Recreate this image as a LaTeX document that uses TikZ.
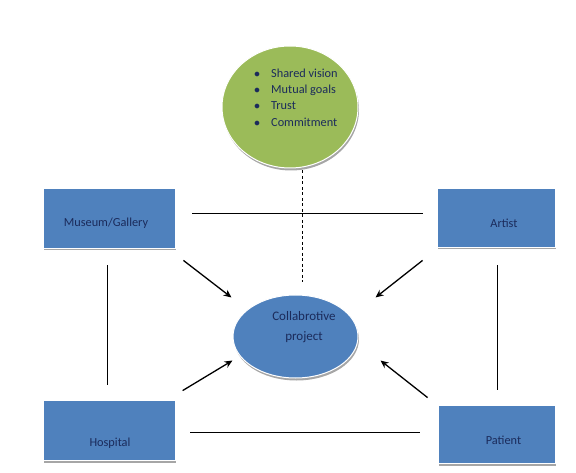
\documentclass[tikz,border=0pt]{standalone}
\usepackage{fontspec}
\setmainfont{Carlito}
\usetikzlibrary{shapes.geometric,arrows.meta,calc}
\definecolor{boxblue}{HTML}{4F81BD}
\definecolor{leaf}{HTML}{9BBB59}
\definecolor{ink}{HTML}{1B2B5B}
\begin{document}
\begin{tikzpicture}[x=1pt,y=-1pt,
  shadowed/.style={preaction={fill=black!35,transform canvas={shift={(1pt,-2.5pt)}}}},
  actor/.style={shadowed,draw=white,line width=0.8pt,fill=boxblue,inner sep=0pt},
  every label/.style={text=ink,font=\fontsize{12.3}{14}\selectfont,inner sep=0pt},
  bubble/.style={ellipse,shadowed,draw=white,line width=1pt,inner sep=0pt},
  link/.style={draw=black,line width=0.9pt},
  dashlink/.style={draw=black,line width=0.9pt,dash pattern=on 3pt off 2.5pt},
  push/.style={draw=black,line width=1.3pt,-{Stealth[length=8pt,width=7pt]}}
]
\useasboundingbox (0,0) rectangle (576,473);

\node[bubble,fill=leaf,minimum width=136pt,minimum height=122pt] (values) at (290,107) {};
\node[text=ink,font=\fontsize{12.3}{16.3}\selectfont,anchor=west,inner sep=0pt] (list) at (254,98.5)
  {\begin{tabular}{@{}l@{\hspace{11pt}}l@{}}
   $\bullet$ & Shared vision\\
   $\bullet$ & Mutual goals\\
   $\bullet$ & Trust\\
   $\bullet$ & Commitment
   \end{tabular}};

\node[bubble,fill=boxblue,minimum width=125pt,minimum height=83pt] (collab) at (295.5,336.5) {};
\node[text=ink,font=\fontsize{13}{20}\selectfont,align=center,inner sep=0pt] (collabtext) at (304,327) {Collabrotive\\project};

\node[actor,minimum width=132pt,minimum height=60pt,label={[shift={(-3pt,-5pt)}]center:Museum/Gallery}] (museum) at (109,218) {};
\node[actor,minimum width=118pt,minimum height=59pt,label={[shift={(8pt,-5.5pt)}]center:Artist}] (artist) at (496,217.5) {};
\node[actor,minimum width=132pt,minimum height=60pt,label={[shift={(1pt,-13pt)}]center:Hospital}] (hospital) at (109,430) {};
\node[actor,minimum width=117pt,minimum height=58pt,label={[shift={(7pt,-6pt)}]center:Patient}] (patient) at (496.5,434) {};

\draw[link] ($(museum.east)+(17,-5)$) -- ($(artist.west)+(-14,-4.5)$);
\draw[link] ($(hospital.east)+(15,2)$) -- ($(patient.west)+(-18,-2)$);
\draw[link] ($(museum.south)+(-2,17)$) -- ($(hospital.north)+(-2,-15)$);
\draw[link] ($(artist.south)+(1,18)$) -- ($(patient.north)+(0.5,-15)$);
\draw[dashlink] ($(values.south)+(12,2)$) -- ($(collab.north)+(6.5,-12)$);

\draw[push] ($(museum.south east)+(8,12)$) -- ($(collab.west)+(-1,-39)$);
\draw[push] ($(artist.south west)+(-14,13)$) -- ($(collab.east)+(17,-39)$);
\draw[push] ($(hospital.north west)+(140,-9)$) -- ($(collab.west)+(0,24)$);
\draw[push] ($(patient.north west)+(-10,-7)$) -- ($(collab.east)+(22,24)$);
\end{tikzpicture}
\end{document}
